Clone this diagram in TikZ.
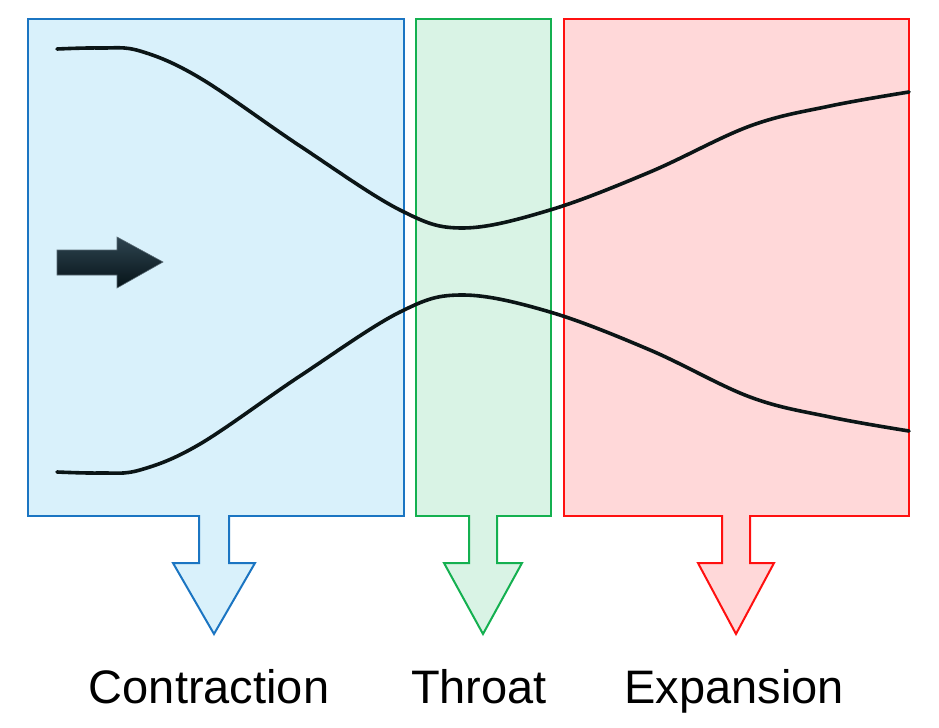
\documentclass[tikz,border=0pt]{standalone}
\usepackage{fontspec}
\setmainfont{Liberation Sans}
\usetikzlibrary{positioning, calc}
\definecolor{BlueEdge}{HTML}{1B75C2}
\definecolor{BlueFill}{HTML}{D9F1FB}
\definecolor{GreenEdge}{HTML}{14B050}
\definecolor{GreenFill}{HTML}{D9F3E5}
\definecolor{RedEdge}{HTML}{FF1010}
\definecolor{RedFill}{HTML}{FFD8D9}
\definecolor{Wall}{HTML}{0B1516}
\definecolor{ArrowTop}{HTML}{2E4450}
\definecolor{ArrowBot}{HTML}{061318}
\tikzset{
    zone/.style={rectangle, line width=1pt, inner sep=0pt, anchor=north west},
    wall/.style={line width=1.8pt, color=Wall, line cap=round},
    outarrow/.style={line width=1pt, line join=miter},
    zonelabel/.style={font=\fontsize{23.5}{26}\selectfont, anchor=base, inner sep=0pt},
}

\begin{document}
\begin{tikzpicture}[x=0.5pt, y=-0.5pt]
        \useasboundingbox (0,0) rectangle (939,728);

        % Zones
        \node[zone, draw=BlueEdge, fill=BlueFill, minimum width=188pt, minimum height=248.5pt] (contr) at (27,18) {};
        \node[zone, draw=GreenEdge, fill=GreenFill, minimum width=67.5pt, minimum height=248.5pt] (throat) at (415,18) {};
        \node[zone, draw=RedEdge, fill=RedFill, minimum width=172.5pt, minimum height=248.5pt] (expan) at (563,18) {};

        % Output arrows
        \foreach \z/\c/\w/\h/\col in {contr/214/15/41/Blue, throat/483/14/39/Green, expan/736/14/38/Red} {
            \draw[outarrow, draw=\col Edge, fill=\col Fill]
                (\c-\w,515) -- (\c-\w,563) -- (\c-\h,563) -- (\c,634)
                -- (\c+\h,563) -- (\c+\w,563) -- (\c+\w,515);
        }

        % Nozzle walls
        \draw[wall] plot[smooth, tension=0.6] coordinates {
            (57,49) (100,48) (140,51) (200,78) (300,146) (400,210) (463,228)
            (550,210) (650,172) (750,126) (830,106) (909,92)};
        \draw[wall] plot[smooth, tension=0.6] coordinates {
            (57,472) (100,473) (140,470) (200,444) (300,376) (400,312) (463,295)
            (550,312) (650,350) (750,397) (830,417) (909,431)};

        % Flow direction
        \shade[top color=ArrowTop, bottom color=ArrowBot, draw=ArrowTop!80!white, line width=0.3pt]
            (57,250) -- (117,250) -- (117,237) -- (163,262) -- (117,288) -- (117,275) -- (57,275) -- cycle;

        % Labels
        \node[zonelabel] (lcontr) at (209,703) {Contraction};
        \node[zonelabel] (lthroat) at (479,703) {Throat};
        \node[zonelabel] (lexpan) at (734,703) {Expansion};
    \end{tikzpicture}
\end{document}
